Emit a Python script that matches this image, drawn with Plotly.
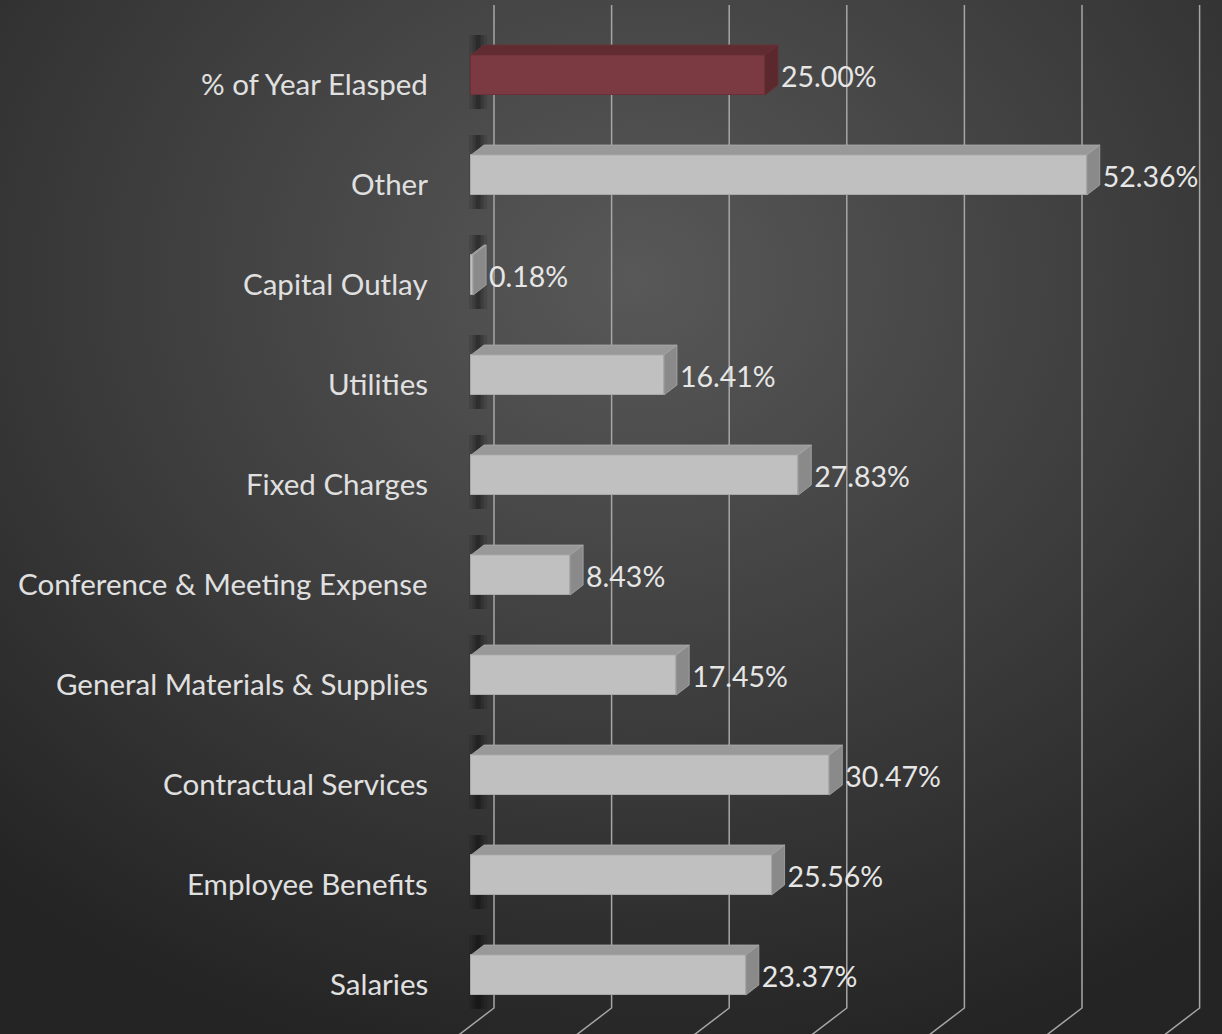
import base64
import plotly.graph_objects as go

# categories bottom -> top, values in percent
categories = ["Salaries", "Employee Benefits", "Contractual Services",
              "General Materials & Supplies", "Conference & Meeting Expense",
              "Fixed Charges", "Utilities", "Capital Outlay", "Other",
              "% of Year Elasped"]
values = [23.37, 25.56, 30.47, 17.45, 8.43, 27.83, 16.41, 0.18, 52.36, 25.00]
grid_ticks = [0, 10, 20, 30, 40, 50, 60]

# faces of the fake 3D bars
GRAY = dict(front="#c0c0c0", top="#999999", side="#8a8a8a", edge="#a9a9a9")
RED = dict(front="#7b3a41", top="#612c31", side="#5a282d", edge="#6a3036")
colors = [RED if c.startswith("%") else GRAY for c in categories]

W, H = 1222, 1034
PX_PER_UNIT = 11.76          # pixels per 1 %
X0_PX = 471                  # pixel of 0 %
Y_TOP = 9.75                 # data y at top edge, 100 px per category
x_range = [-X0_PX / PX_PER_UNIT, (W - X0_PX) / PX_PER_UNIT]
y_range = [Y_TOP - H / 100, Y_TOP]

half = 0.2                   # half bar thickness (y units)
dx = 13 / PX_PER_UNIT        # depth offset of bars
dy = 0.10
back = 23 / PX_PER_UNIT      # back wall offset of gridlines
FONT = "Lato, Open Sans, sans-serif"

fig = go.Figure()

# top + side faces of each bar
for i, (v, c) in enumerate(zip(values, colors)):
    fig.add_trace(go.Scatter(
        x=[0, v, v + dx, dx, 0],
        y=[i + half, i + half, i + half + dy, i + half + dy, i + half],
        mode="lines", fill="toself", fillcolor=c["top"],
        line=dict(color=c["edge"], width=0.8), hoverinfo="skip", showlegend=False))
    fig.add_trace(go.Scatter(
        x=[v, v + dx, v + dx, v, v],
        y=[i - half, i - half + dy, i + half + dy, i + half, i - half],
        mode="lines", fill="toself", fillcolor=c["side"],
        line=dict(color=c["edge"], width=0.8), hoverinfo="skip", showlegend=False))

# front faces
fig.add_trace(go.Bar(
    x=values, y=list(range(len(values))), orientation="h", width=2 * half,
    marker=dict(color=[c["front"] for c in colors],
                line=dict(color=[c["edge"] for c in colors], width=1)),
    hoverinfo="x", showlegend=False))

# data labels
fig.add_trace(go.Scatter(
    x=[v + dx + 0.25 for v in values], y=[i - 0.05 for i in range(len(values))],
    mode="text", text=[f"{v:.2f}%" for v in values], textposition="middle right",
    textfont=dict(family=FONT, size=28.5, color="#e6e6e6"),
    hoverinfo="skip", showlegend=False))

# gridlines on back wall bending onto the floor
floor_y = Y_TOP - 1008 / 100
for t in grid_ticks:
    xb = t + back
    fig.add_shape(type="path", xref="x", yref="y", layer="below",
                  path=f"M {xb},{Y_TOP - 0.05} L {xb},{floor_y} "
                       f"L {xb - 68 / PX_PER_UNIT},{floor_y - 0.52}",
                  line=dict(color="#a6a6a6", width=1.5))

# soft shadow of the left wall near each bar
for i in range(len(values)):
    for w, a in [(18, 0.10), (11, 0.14), (5, 0.2)]:
        fig.add_shape(type="line", xref="x", yref="y", layer="below",
                      x0=0.6, x1=0.6, y0=i - 0.34, y1=i + 0.40,
                      line=dict(color=f"rgba(0,0,0,{a})", width=w))

# category labels
for i, c in enumerate(categories):
    fig.add_annotation(x=-41 / PX_PER_UNIT, y=i - 0.08, text=c, showarrow=False,
                       xanchor="right", yanchor="middle",
                       font=dict(family=FONT, size=29.5, color="#e0e0e0"))

# radial gradient background
svg = (f'<svg xmlns="http://www.w3.org/2000/svg" width="{W}" height="{H}">'
       '<defs><radialGradient id="g" cx="0.52" cy="0.27" r="0.78">'
       '<stop offset="0" stop-color="#585858"/>'
       '<stop offset="0.55" stop-color="#3c3c3c"/>'
       '<stop offset="1" stop-color="#242424"/></radialGradient></defs>'
       f'<rect width="{W}" height="{H}" fill="url(#g)"/></svg>')
fig.add_layout_image(dict(
    source="data:image/svg+xml;base64," + base64.b64encode(svg.encode()).decode(),
    xref="paper", yref="paper", x=0, y=1, sizex=1, sizey=1,
    sizing="stretch", layer="below"))

fig.update_xaxes(range=x_range, visible=False, fixedrange=True)
fig.update_yaxes(range=y_range, visible=False, fixedrange=True)
fig.update_layout(
    width=W, height=H,
    margin=dict(l=0, r=0, t=0, b=0),
    paper_bgcolor="#333333", plot_bgcolor="rgba(0,0,0,0)",
    bargap=0, showlegend=False,
)

fig.write_html("out.html", config={"displayModeBar": False},
               post_script="document.body.style.margin='0';")
